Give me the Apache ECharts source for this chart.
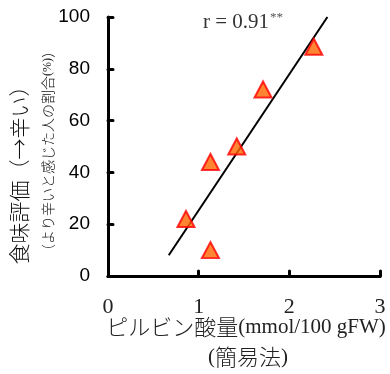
<!DOCTYPE html>
<html>
<head>
<meta charset="utf-8">
<script src="https://cdn.jsdelivr.net/npm/echarts@6/dist/echarts.min.js"></script>
<style>html,body{margin:0;padding:0;background:#fff}#c{width:390px;height:374px}</style>
</head>
<body>
<div id="c"></div>
<script>
const pyruvic = [0.86, 1.13, 1.13, 1.42, 1.71, 2.27];
const taste = [22, 10, 44, 50, 72, 88.5];
const fitX = [0.67, 2.42];
const fitY = [8, 100];
const xTicks = [0, 1, 2, 3];
const yTicks = [0, 20, 40, 60, 80, 100];

const chart = echarts.init(document.getElementById('c'));
const serif = "'Liberation Serif', 'DejaVu Serif', serif";
const cjk = "'Noto Sans CJK JP', sans-serif";
chart.setOption({
  animation: false,
  grid: { left: 108, right: 10, top: 17, bottom: 98 },
  xAxis: {
    type: 'value', min: xTicks[0], max: xTicks[xTicks.length - 1], interval: 1,
    axisLine: { lineStyle: { color: '#000', width: 3, cap: 'round' } },
    axisTick: { inside: true, length: 5, lineStyle: { color: '#000', width: 3, cap: 'round' } },
    axisLabel: { margin: 20, color: '#222', fontFamily: serif, fontSize: 22 },
    splitLine: { show: false }
  },
  yAxis: {
    type: 'value', min: yTicks[0], max: yTicks[yTicks.length - 1], interval: 20,
    axisLine: { show: true, lineStyle: { color: '#000', width: 3, cap: 'round' } },
    axisTick: { show: true, inside: true, length: 5, lineStyle: { color: '#000', width: 3, cap: 'round' } },
    axisLabel: { margin: 18, color: '#000', fontFamily: "'Liberation Sans', Arial, sans-serif", fontSize: 19 },
    splitLine: { show: false }
  },
  series: [
    {
      type: 'line', data: fitX.map((x, i) => [x, fitY[i]]),
      symbol: 'none', lineStyle: { color: '#000', width: 2 }, z: 2
    },
    {
      type: 'scatter', data: pyruvic.map((x, i) => [x, taste[i]]),
      symbol: 'triangle', symbolSize: [17, 16],
      itemStyle: { color: '#FF6600', borderColor: '#FF0000', borderWidth: 2 }, z: 3
    }
  ],
  graphic: [
    {
      type: 'text', left: 203, top: 11,
      style: {
        text: '{a|r = 0.91}{b|**}',
        rich: {
          a: { fontFamily: serif, fontSize: 21, fill: '#333' },
          b: { fontFamily: serif, fontSize: 13, fill: '#555', verticalAlign: 'top', padding: [0, 0, 9, 1] }
        }
      }
    },
    {
      type: 'text', x: 19, y: 170, rotation: Math.PI / 2,
      style: { text: '食味評価（→辛い）', font: "300 21px " + cjk, fill: '#111', align: 'center', verticalAlign: 'middle' }
    },
    {
      type: 'text', x: 48, y: 151, rotation: Math.PI / 2,
      style: {
        text: '{a|（より辛いと感じた人の割合}{b|(%)}{a|）}',
        align: 'center', verticalAlign: 'middle',
        rich: {
          a: { fontFamily: cjk, fontWeight: 300, fontSize: 14, fill: '#111' },
          b: { fontFamily: serif, fontSize: 12, fill: '#111' }
        }
      }
    },
    {
      type: 'text', x: 246, y: 327,
      style: {
        text: '{a|ピルビン酸量}{b|(mmol/100 gFW)}',
        align: 'center', verticalAlign: 'middle',
        rich: {
          a: { fontFamily: cjk, fontWeight: 300, fontSize: 22, fill: '#222' },
          b: { fontFamily: serif, fontSize: 21, fill: '#222' }
        }
      }
    },
    {
      type: 'text', x: 248, y: 357,
      style: {
        text: '{b|(}{a|簡易法}{b|)}',
        align: 'center', verticalAlign: 'middle',
        rich: {
          a: { fontFamily: cjk, fontWeight: 300, fontSize: 22, fill: '#222' },
          b: { fontFamily: serif, fontSize: 21, fill: '#222' }
        }
      }
    }
  ]
});
</script>
</body>
</html>
